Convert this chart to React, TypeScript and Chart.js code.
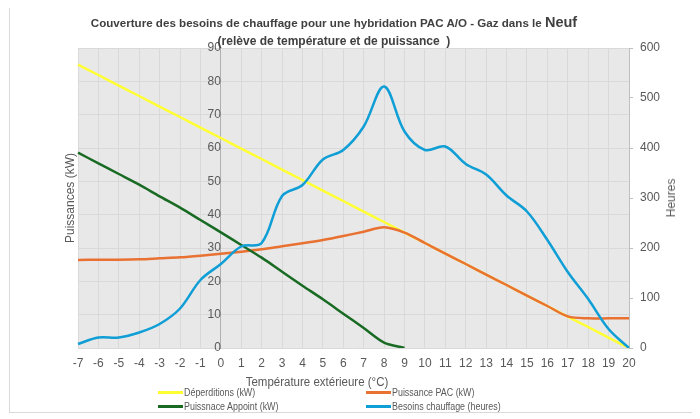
import React, { useEffect, useRef } from "react";
import { Chart, registerables } from "chart.js";

Chart.register(...registerables);

const temperatures = ["-7","-6","-5","-4","-3","-2","-1","0","1","2","3","4","5","6","7","8","9","10","11","12","13","14","15","16","17","18","19","20"];
const deperditions = [85, 81.9, 78.7, 75.6, 72.4, 69.3, 66.1, 63, 59.8, 56.7, 53.5, 50.4, 47.2, 44.1, 40.9, 37.8, 34.6, 31.5, 28.3, 25.2, 22, 18.9, 15.7, 12.6, 9.4, 6.3, 3.1, 0];
const puissancePAC = [26.4, 26.5, 26.5, 26.6, 26.9, 27.2, 27.7, 28.3, 28.9, 29.6, 30.5, 31.4, 32.4, 33.6, 34.9, 36.2, 34.6, 31.5, 28.3, 25.2, 22, 18.9, 15.7, 12.6, 9.5, 8.9, 8.9, 8.9];
const puissanceAppoint = [58.6, 55.4, 52.2, 49.0, 45.5, 42.1, 38.4, 34.7, 30.9, 27.1, 22.9, 18.7, 14.6, 10.3, 6.0, 1.6, 0, null, null, null, null, null, null, null, null, null, null, null];
const besoinsHeures = [8, 21, 21, 31, 48, 79, 136, 168, 203, 210, 304, 326, 377, 396, 443, 523, 433, 396, 403, 368, 347, 305, 273, 216, 152, 98, 38, 0];
const leftTicks = { min: 0, max: 90, step: 10 };
const rightTicks = { min: 0, max: 600, step: 100 };

const GRAY = "#595959";
const FONT = "'Liberation Sans', Arial, sans-serif";

const bgPlugin = {
  id: "plotBg",
  beforeDraw(chart: any) {
    const { ctx, chartArea } = chart;
    ctx.save();
    ctx.fillStyle = "#e8e8e8";
    ctx.fillRect(chartArea.left, chartArea.top, chartArea.right - chartArea.left, chartArea.bottom - chartArea.top);
    ctx.restore();
  },
};

const legendItems = [
  { label: "Déperditions (kW)", color: "#FFFF33", left: 148, top: 388 },
  { label: "Puissance PAC (kW)", color: "#E97132", left: 356, top: 388 },
  { label: "Puissnace Appoint (kW)", color: "#196B24", left: 148, top: 402 },
  { label: "Besoins chauffage (heures)", color: "#0F9ED5", left: 356, top: 402 },
];

export default function App() {
  const ref = useRef<HTMLCanvasElement>(null);
  useEffect(() => {
    if (!ref.current) return;
    const chart = new Chart(ref.current, {
      type: "line",
      data: {
        labels: temperatures,
        datasets: [
          { label: "Déperditions (kW)", data: deperditions, borderColor: "#FFFF33", borderWidth: 2.5, yAxisID: "y", order: 4, tension: 0.3, pointRadius: 0 },
          { label: "Puissance PAC (kW)", data: puissancePAC, borderColor: "#E97132", borderWidth: 2.5, yAxisID: "y", order: 3, tension: 0.3, pointRadius: 0 },
          { label: "Puissnace Appoint (kW)", data: puissanceAppoint, borderColor: "#196B24", borderWidth: 2.5, yAxisID: "y", order: 2, tension: 0.3, pointRadius: 0 },
          { label: "Besoins chauffage (heures)", data: besoinsHeures, borderColor: "#0F9ED5", borderWidth: 2.5, yAxisID: "y1", order: 1, tension: 0.35, pointRadius: 0 },
        ],
      },
      options: {
        responsive: false,
        animation: false,
        devicePixelRatio: 1,
        layout: { padding: { top: 44, bottom: 22, left: 51, right: 14 } },
        plugins: { legend: { display: false }, tooltip: { enabled: false } },
        scales: {
          x: {
            type: "category",
            offset: false,
            grid: { color: "#d9d9d9", drawTicks: false },
            border: { display: false },
            ticks: { font: { size: 12, family: FONT }, color: GRAY, padding: 8, maxRotation: 0, autoSkip: false },
            afterFit: (s: any) => { s.height = 42; },
          },
          y: {
            position: "left",
            min: leftTicks.min,
            max: leftTicks.max,
            ticks: { stepSize: leftTicks.step, display: false },
            grid: { color: "#d9d9d9", drawTicks: false },
            border: { display: false },
            title: { display: true, text: "Puissances (kW)", font: { size: 12, family: FONT }, color: GRAY, padding: { top: 2, bottom: 0 } },
            afterFit: (s: any) => { s.width = 17; },
          },
          y2: {
            position: { x: 7 } as any,
            min: leftTicks.min,
            max: leftTicks.max,
            ticks: { stepSize: leftTicks.step, font: { size: 12, family: FONT }, color: GRAY, padding: 10 },
            grid: { display: false },
            border: { display: true, color: "#b0b0b0", width: 1 },
          },
          y1: {
            position: "right",
            min: rightTicks.min,
            max: rightTicks.max,
            ticks: { stepSize: rightTicks.step, font: { size: 12, family: FONT }, color: GRAY, padding: 7 },
            grid: { drawOnChartArea: false, drawTicks: true, tickLength: 4, tickColor: "#bfbfbf" },
            border: { display: true, color: "#bfbfbf", width: 1 },
            afterFit: (s: any) => { s.width = 52; },
          },
        },
      },
      plugins: [bgPlugin],
    } as any);
    return () => chart.destroy();
  }, []);

  return (
    <div style={{ position: "relative", width: 687, height: 410, boxSizing: "border-box", border: "1px solid #d9d9d9", marginTop: -5, marginLeft: 1, background: "#fff" }}>
      <canvas ref={ref} width={685} height={408} style={{ position: "absolute", left: 0, top: 0, width: 685, height: 408 }} />
      <div style={{ position: "absolute", left: 0, top: 9, width: 648, textAlign: "center", fontFamily: FONT, fontWeight: "bold", fontSize: 11.6, color: "#404040", lineHeight: "18px" }}>
        <div>Couverture des besoins de chauffage pour une hybridation PAC A/O - Gaz dans le <span style={{ fontSize: 14.5 }}>Neuf</span></div>
        <div style={{ fontSize: 12 }}>(relève de température et de puissance&nbsp; )</div>
      </div>
      <div style={{ position: "absolute", left: 306.5, top: 378, transform: "translate(-50%, -50%) scaleX(0.92)", fontFamily: FONT, fontSize: 12.5, color: GRAY, whiteSpace: "nowrap", lineHeight: "14px" }}>
        Température extérieure (°C)
      </div>
      <div style={{ position: "absolute", left: 661, top: 194, transform: "translate(-50%, -50%) rotate(-90deg)", fontFamily: FONT, fontSize: 12, color: GRAY, whiteSpace: "nowrap", lineHeight: "14px" }}>
        Heures
      </div>
      {legendItems.map((it) => (
        <div key={it.label} style={{ position: "absolute", left: it.left, top: it.top - 6, height: 12, display: "flex", alignItems: "center", fontFamily: FONT, fontSize: 10, color: GRAY, whiteSpace: "nowrap" }}>
          <span style={{ display: "inline-block", width: 25, height: 3, background: it.color, marginRight: 1 }} />
          <span style={{ display: "inline-block", transform: "scaleX(0.89)", transformOrigin: "left center" }}>{it.label}</span>
        </div>
      ))}
    </div>
  );
}
